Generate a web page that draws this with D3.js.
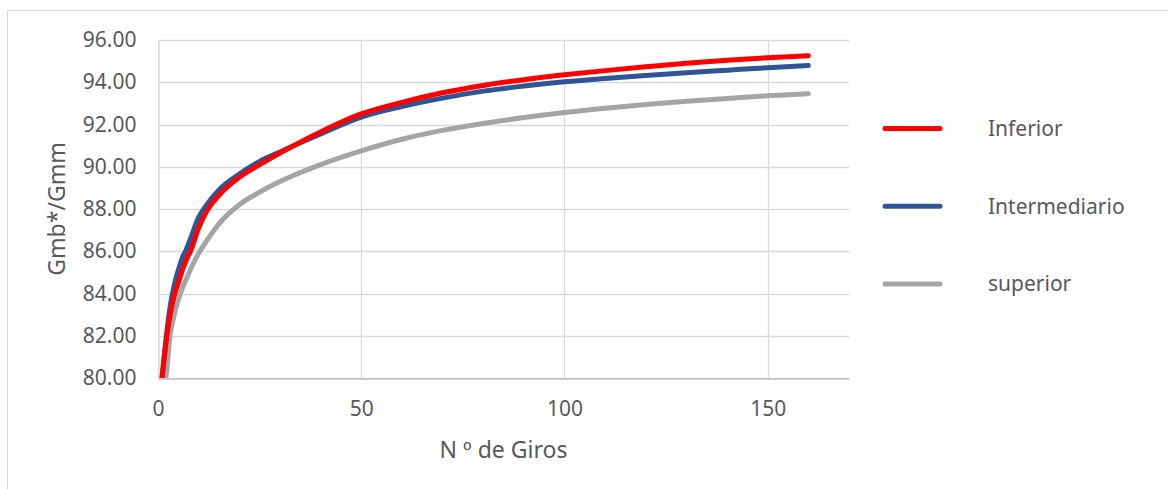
<!DOCTYPE html>
<html>
<head>
<meta charset="utf-8">
<script src="https://cdn.jsdelivr.net/npm/d3@7"></script>
<style>
body { margin: 0; background: #fff; }
text { font-family: "Noto Sans", sans-serif; fill: #595959; }
</style>
</head>
<body>
<svg></svg>
<script>
var width = 1168;
var height = 489;

// data (N of gyrations -> Gmb*/Gmm)
var giros = [1, 2, 3, 4, 5, 6, 7, 8, 10, 12, 15, 20, 25, 30, 40, 50, 60, 70, 80, 90, 100, 110, 120, 130, 140, 150, 160];
var inferior = [80.0, 81.7, 83.0, 83.9, 84.5, 85.1, 85.6, 86.0, 87.1, 87.9, 88.65, 89.5, 90.1, 90.65, 91.65, 92.5, 93.05, 93.5, 93.85, 94.12, 94.35, 94.55, 94.73, 94.9, 95.04, 95.16, 95.26];
var intermediario = [80.0, 81.9, 83.4, 84.4, 85.1, 85.7, 86.1, 86.6, 87.6, 88.2, 88.9, 89.65, 90.25, 90.7, 91.55, 92.35, 92.85, 93.25, 93.58, 93.82, 94.02, 94.18, 94.32, 94.45, 94.57, 94.69, 94.79];
var superior = [78.9, 80.1, 82.05, 83.0, 83.7, 84.25, 84.7, 85.15, 85.9, 86.5, 87.3, 88.2, 88.8, 89.3, 90.1, 90.75, 91.3, 91.72, 92.05, 92.33, 92.57, 92.77, 92.95, 93.1, 93.23, 93.36, 93.46];

var seriesNames = ["Inferior", "Intermediario", "superior"];
var seriesColors = ["#ff0000", "#2f5597", "#a5a5a5"];
var xTicks = [0, 50, 100, 150];
var yTicks = [80, 82, 84, 86, 88, 90, 92, 94, 96];

var series = [inferior, intermediario, superior].map(function(vals, i) {
    return {
        name: seriesNames[i],
        color: seriesColors[i],
        values: vals.map(function(v, j) { return {x: giros[j], y: v}; })
    };
});

var plot = {left: 158, top: 40, right: 849, bottom: 378};

var svg = d3.select("svg")
    .attr("width", width)
    .attr("height", height);

// outer chart border
svg.append("rect")
    .attr("x", 7.5)
    .attr("y", 10.5)
    .attr("width", 1200)
    .attr("height", 600)
    .attr("fill", "none")
    .attr("stroke", "#d9d9d9");

var x = d3.scaleLinear().domain([0, 170]).range([plot.left, plot.right]);
var y = d3.scaleLinear().domain([80, 96]).range([plot.bottom, plot.top]);

// gridlines
var grid = svg.append("g");
grid.selectAll("line.h")
    .data(yTicks)
    .enter().append("line")
    .attr("x1", plot.left)
    .attr("x2", plot.right)
    .attr("y1", function(d) { return Math.round(y(d)) + 0.5; })
    .attr("y2", function(d) { return Math.round(y(d)) + 0.5; })
    .attr("stroke", "#d9d9d9")
    .attr("stroke-width", 1.3);
grid.selectAll("line.v")
    .data(xTicks)
    .enter().append("line")
    .attr("y1", plot.top)
    .attr("y2", plot.bottom)
    .attr("x1", function(d) { return Math.round(x(d)) + 0.5; })
    .attr("x2", function(d) { return Math.round(x(d)) + 0.5; })
    .attr("stroke", "#d9d9d9")
    .attr("stroke-width", 1.3);

// axes, styled like the original (no tick marks)
var xAxis = svg.append("g")
    .attr("transform", "translate(0," + (Math.round(plot.bottom) + 0.5) + ")")
    .call(d3.axisBottom(x).tickValues(xTicks).tickSize(0).tickPadding(23));
xAxis.select(".domain").attr("stroke", "#bfbfbf").attr("stroke-width", 1.3);
xAxis.selectAll("text").style("font-size", "21px").attr("fill", "#595959");

var yAxis = svg.append("g")
    .attr("transform", "translate(" + (plot.left + 0.5) + ",0)")
    .call(d3.axisLeft(y).tickValues(yTicks).tickSize(0).tickPadding(22).tickFormat(d3.format(".2f")));
yAxis.select(".domain").attr("stroke", "#d9d9d9").attr("stroke-width", 1.3);
yAxis.selectAll("text").style("font-size", "21px").attr("fill", "#595959");

// clip lines to the plot area
svg.append("clipPath")
    .attr("id", "clip")
    .append("rect")
    .attr("x", plot.left)
    .attr("y", plot.top - 10)
    .attr("width", plot.right - plot.left)
    .attr("height", plot.bottom - plot.top + 10);

var line = d3.line()
    .x(function(d) { return x(d.x); })
    .y(function(d) { return y(d.y); })
    .curve(d3.curveMonotoneX);

// draw superior first so red/blue sit on top
svg.append("g")
    .attr("clip-path", "url(#clip)")
    .selectAll("path")
    .data(series.slice().reverse())
    .enter().append("path")
    .attr("d", function(d) { return line(d.values); })
    .attr("fill", "none")
    .attr("stroke", function(d) { return d.color; })
    .attr("stroke-width", 5)
    .attr("stroke-linecap", "round")
    .attr("stroke-linejoin", "round");

// axis titles
svg.append("text")
    .attr("transform", "translate(57," + ((plot.top + plot.bottom) / 2) + ") rotate(-90)")
    .attr("text-anchor", "middle")
    .attr("dy", "0.35em")
    .style("font-size", "23px")
    .text("Gmb*/Gmm");

svg.append("text")
    .attr("x", (plot.left + plot.right) / 2)
    .attr("y", 450)
    .attr("text-anchor", "middle")
    .attr("dy", "0.35em")
    .style("font-size", "23px")
    .text("N º de Giros");

// legend
var legend = svg.append("g")
    .selectAll("g")
    .data(series)
    .enter().append("g")
    .attr("transform", function(d, i) { return "translate(885," + (128.5 + i * 77.7) + ")"; });
legend.append("line")
    .attr("x1", 0)
    .attr("x2", 55)
    .attr("stroke", function(d) { return d.color; })
    .attr("stroke-width", 5)
    .attr("stroke-linecap", "round");
legend.append("text")
    .attr("x", 103)
    .attr("dy", "0.35em")
    .style("font-size", "21px")
    .text(function(d) { return d.name; });
</script>
</body>
</html>
